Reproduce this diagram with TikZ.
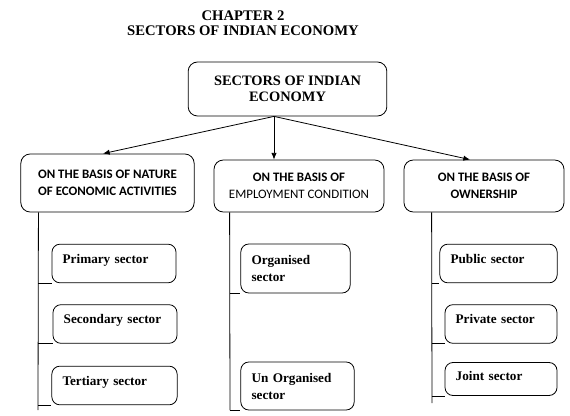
\documentclass[tikz,border=0pt]{standalone}
\usepackage{fontspec}
\setmainfont{Liberation Serif}
\newfontfamily\headfont{Carlito}
\usepackage{tikz}
\usetikzlibrary{arrows.meta, positioning, calc}
\tikzset{
    rootblk/.style={draw, rounded corners=7pt, align=center, line width=0.6pt,
                font=\fontsize{10.8}{12}\selectfont\bfseries, minimum width=149pt, minimum height=40.5pt},
    headblk/.style={draw, rounded corners=7pt, align=center, line width=0.6pt,
                font=\headfont\fontsize{9.7}{12.75}\selectfont, minimum height=39pt},
    subblk/.style={draw, rounded corners=6pt, align=left, line width=0.6pt, inner xsep=8pt,
                font=\fontsize{9.9}{12.75}\selectfont\bfseries, minimum height=29pt},
    oneline/.style={subblk, text depth=7pt},
    arr/.style={-{Latex[length=5pt, width=4pt]}, line width=0.6pt},
    bar/.style={line width=0.6pt}
}
\begin{document}
\begin{tikzpicture}[x=0.75pt, y=-0.75pt]
    \useasboundingbox (0,0) rectangle (570,416);
    \node[align=center, font=\fontsize{11}{11.5}\selectfont\bfseries] (title) at (243,23) {CHAPTER 2\\SECTORS OF INDIAN ECONOMY};
    \node[rootblk] (root) at (287.5,89) {SECTORS OF INDIAN\\ECONOMY};
    % three ways of dividing
    \node[headblk, minimum width=130pt, minimum height=43.5pt] (nature) at (107.5,183) {\bfseries ON THE BASIS OF NATURE\\\bfseries OF ECONOMIC ACTIVITIES};
    \node[headblk, minimum width=127.5pt] (employ) at (299,186) {\bfseries ON THE BASIS OF\\EMPLOYMENT CONDITION};
    \node[headblk, minimum width=120pt] (owner) at (484,186) {\bfseries ON THE BASIS OF\\\bfseries OWNERSHIP};
    \coordinate (split) at ($(root.south)+(-13.5,0)$);
    \draw[arr] (split) -- ($(nature.north)+(-4.5,0)$);
    \draw[arr] (split) -- (split |- employ.north);
    \draw[arr] (split) -- ($(owner.north)+(-14,0)$);
    % sectors by activity
    \node[oneline, minimum width=93pt, text width=77pt] (primary) at (114,263.5) {Primary sector};
    \node[oneline, minimum width=93pt, text width=77pt] (secondary) at (115,324) {Secondary sector};
    \node[oneline, minimum width=94pt, text width=78pt] (tertiary) at (114.5,385.5) {Tertiary sector};
    \coordinate (nbar) at ($(nature.south west)+(18,0)$);
    \coordinate (nend) at (38,410);
    \draw[bar] (nbar) -- (nend);
    \draw[bar] (nbar |- primary.south) -- (primary.south west);
    \draw[bar] (nbar |- secondary.south) -- (secondary.south west);
    \draw[bar] (nbar |- tertiary.south) -- (tertiary.south west);
    % sectors by employment
    \node[subblk, minimum width=81.75pt, minimum height=36.75pt, text width=66pt] (org) at (295.5,268.5) {Organised\\sector};
    \node[subblk, minimum width=84.75pt, minimum height=36pt, text width=69pt] (unorg) at (297.5,386) {Un~Organised\\sector};
    \coordinate (ebar) at ($(employ.south west)+(16,0)$);
    \coordinate (eend) at (230,410);
    \draw[bar] (ebar) -- (eend);
    \draw[bar] (ebar |- org.south) -- (org.south west);
    \draw[bar] (ebar |- unorg.south) -- (unorg.south west);
    % sectors by ownership
    \node[oneline, minimum width=87.75pt, text width=72pt] (public) at (498.5,263.5) {Public sector};
    \node[oneline, minimum width=84pt, text width=68pt] (private) at (501,324) {Private sector};
    \node[subblk, text depth=4pt, minimum width=84pt, minimum height=24.75pt, text width=68pt] (joint) at (501,379) {Joint sector};
    \coordinate (obar) at ($(owner.south west)+(28,0)$);
    \coordinate (oend) at (432,403);
    \draw[bar] (obar) -- (oend);
    \draw[bar] (obar |- public.south) -- (public.south west);
    \draw[bar] (obar |- private.south) -- (private.south west);
    \draw[bar] (obar |- joint.south) -- (joint.south west);
\end{tikzpicture}
\end{document}
